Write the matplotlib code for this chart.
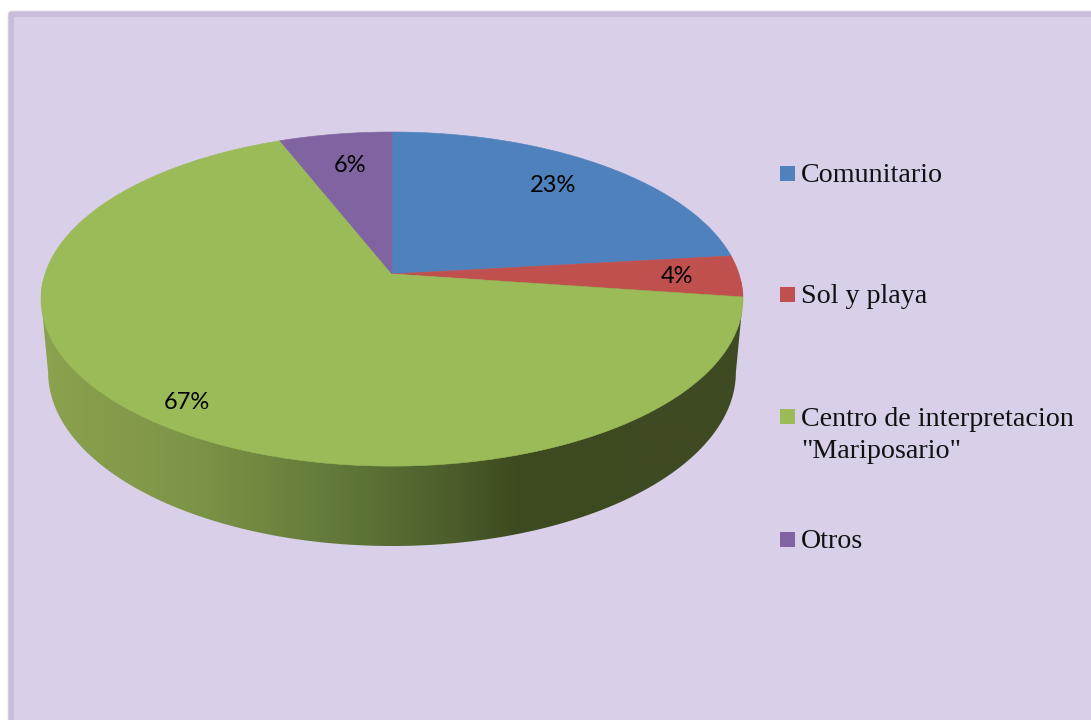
#!/usr/bin/env python3
import numpy as np
import matplotlib as mpl
mpl.use('Agg')
import matplotlib.pyplot as plt
from matplotlib.colors import LinearSegmentedColormap
from matplotlib.patches import FancyBboxPatch, Polygon, Rectangle

categories = ['Comunitario', 'Sol y playa', 'Centro de interpretacion\n"Mariposario"', 'Otros']
values = [23.2, 4.0, 66.8, 6.0]
colors = ['#4f81bd', '#c0504d', '#9bbb59', '#8064a2']

BG = '#d9cfe8'
FRAME = '#c8bedb'

# perspective of the pie disc, in pixels. a circle goes to an off-centre ellipse
CX, CY = 392, 274
K = 0.15


def project(theta, r=1.0, a=163.3, b=347.0, cy=CY):
    # theta is clockwise from 12 o'clock
    u = r * np.sin(theta)
    v = r * np.cos(theta)
    d = 1 + K * v
    return CX + b * u / d, cy - a * v / d


def wall_path():
    # right extreme -> bottom rim through the front -> left extreme, back over the top
    ts = np.linspace(np.radians(98.6), np.radians(261.4), 200)
    x, y = project(ts, a=170.0, b=340.0, cy=346)
    xt, yt = project(np.linspace(np.radians(261.4), np.radians(98.6 + 360), 300))
    return np.column_stack([np.r_[x, xt], np.r_[y, yt]])


def main():
    fig = plt.figure(figsize=(10.91, 7.2), dpi=100, facecolor='white')
    ax = fig.add_axes([0, 0, 1, 1])
    ax.set_xlim(0, 1091)
    ax.set_ylim(720, 0)
    ax.axis('off')

    # panel
    ax.add_patch(FancyBboxPatch((8, 11), 1200, 800, boxstyle='round,pad=0,rounding_size=4',
                                fc=FRAME, ec='#e6e2ec', lw=0.6))
    ax.add_patch(Rectangle((14, 17), 1200, 800, fc=BG, ec='none'))

    # side wall, shading runs left to right
    cmap = LinearSegmentedColormap.from_list('wall', [
        (0.0, '#8ba34e'), (0.22, '#7c9446'), (0.42, '#62793a'),
        (0.58, '#4c5f2b'), (0.68, '#3d4a20'), (1.0, '#3f4a22')])
    im = ax.imshow(np.linspace(0, 1, 256)[None, :], extent=(41, 743, 560, 280),
                   cmap=cmap, aspect='auto', zorder=2, interpolation='bilinear')
    clip = Polygon(wall_path(), closed=True, transform=ax.transData, fc='none', ec='none')
    ax.add_patch(clip)
    im.set_clip_path(clip)
    ax.set_xlim(0, 1091)
    ax.set_ylim(720, 0)

    # top face
    edges = np.radians(np.r_[0, np.cumsum(values)] / sum(values) * 360)
    label_r = [0.77, 0.82, 0.86, 0.75]
    label_dx = [-3, 0, 0, 2]
    label_dy = [-3, 0, 5, -1]
    for i, val in enumerate(values):
        ts = np.linspace(edges[i], edges[i + 1], 200)
        x, y = project(ts)
        xs = np.r_[CX, x]
        ys = np.r_[CY, y]
        ax.fill(xs, ys, fc=colors[i], ec=colors[i], lw=0.4, zorder=3)
        lx, ly = project((edges[i] + edges[i + 1]) / 2, r=label_r[i])
        ax.text(lx + label_dx[i], ly + 1 + label_dy[i], f'{val:.0f}%', ha='center', va='center',
                family='Lato', fontsize=17, color='black', zorder=4)

    # legend. baseline sits on the last line of the label
    legend_y = [173, 294.5, 416.5, 539]
    for name, c, y in zip(categories, colors, legend_y):
        ax.add_patch(Rectangle((780, y - 7.5), 15, 15, fc=c, ec='none'))
        extra = 33 * name.count('\n')
        ax.text(801, y + 8.5 + extra, name, ha='left', va='baseline', family='Liberation Serif',
                fontsize=20.2, color='#111111', linespacing=1.36)

    plt.savefig('out.png', dpi=100)
    plt.close()


if __name__ == '__main__':
    main()
